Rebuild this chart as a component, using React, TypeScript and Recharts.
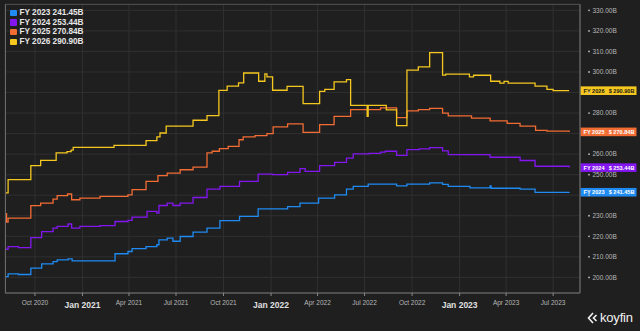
import { LineChart, Line, XAxis, YAxis, CartesianGrid, ReferenceLine } from "recharts";

type Step = [string, number];

const fy2023: Step[] = [
  ["2020-08-04", 200.4], ["2020-08-10", 201.7], ["2020-08-30", 201.4], ["2020-09-23", 204.5],
  ["2020-10-14", 206.6], ["2020-11-05", 207.7], ["2020-11-13", 208.5], ["2020-12-04", 209.0],
  ["2020-12-12", 208.0], ["2021-03-05", 211.5], ["2021-03-30", 212.6], ["2021-04-07", 214.0],
  ["2021-05-04", 215.0], ["2021-05-25", 215.9], ["2021-05-29", 218.3], ["2021-06-14", 219.1],
  ["2021-06-25", 217.6], ["2021-07-09", 219.9], ["2021-08-03", 222.0], ["2021-08-30", 224.0],
  ["2021-09-24", 227.6], ["2021-11-01", 229.7], ["2021-12-07", 233.4], ["2022-02-02", 234.5],
  ["2022-02-26", 236.2], ["2022-04-03", 238.6], ["2022-05-04", 240.2], ["2022-05-27", 243.0],
  ["2022-06-09", 244.3], ["2022-07-08", 245.4], ["2022-09-01", 244.6], ["2022-09-21", 245.4],
  ["2022-11-04", 246.0], ["2022-11-29", 245.3], ["2022-12-10", 244.3], ["2023-01-21", 243.6],
  ["2023-03-01", 244.5], ["2023-03-03", 243.4], ["2023-04-28", 243.0], ["2023-05-27", 241.4],
  ["2023-08-01", 241.45],
];

const fy2024: Step[] = [
  ["2020-08-04", 213.7], ["2020-08-10", 215.0], ["2020-08-30", 214.5], ["2020-09-23", 219.4],
  ["2020-10-14", 222.3], ["2020-11-05", 224.0], ["2020-11-13", 224.8], ["2020-12-04", 226.0],
  ["2020-12-11", 224.0], ["2020-12-27", 224.8], ["2021-02-04", 225.2], ["2021-03-05", 227.2],
  ["2021-03-30", 227.8], ["2021-04-07", 229.3], ["2021-05-06", 232.1], ["2021-05-25", 231.3],
  ["2021-05-29", 235.0], ["2021-06-14", 236.2], ["2021-06-25", 235.0], ["2021-07-09", 236.2],
  ["2021-08-03", 238.9], ["2021-08-30", 243.0], ["2021-09-24", 244.3], ["2021-11-01", 246.7],
  ["2021-12-07", 250.3], ["2022-01-04", 250.0], ["2022-02-02", 251.1], ["2022-02-26", 253.0],
  ["2022-03-08", 251.6], ["2022-04-05", 254.4], ["2022-05-04", 256.0], ["2022-05-27", 258.1],
  ["2022-06-09", 260.1], ["2022-07-10", 260.4], ["2022-08-01", 261.0], ["2022-08-10", 261.4],
  ["2022-09-01", 259.4], ["2022-09-21", 262.2], ["2022-10-15", 262.6], ["2022-11-04", 263.2],
  ["2022-11-29", 261.6], ["2022-12-10", 259.8], ["2023-03-01", 258.5], ["2023-04-28", 256.9],
  ["2023-05-27", 254.1], ["2023-08-01", 253.44],
];

const fy2025: Step[] = [
  ["2020-08-04", 231.0], ["2020-08-07", 226.9], ["2020-08-10", 228.9], ["2020-09-23", 234.9],
  ["2020-10-12", 236.2], ["2020-11-05", 238.1], ["2020-11-13", 239.8], ["2020-12-03", 240.6],
  ["2020-12-11", 237.8], ["2020-12-27", 238.6], ["2021-02-04", 239.4], ["2021-03-30", 240.2],
  ["2021-04-07", 242.7], ["2021-05-04", 246.7], ["2021-05-27", 249.5], ["2021-06-14", 250.8],
  ["2021-07-09", 252.4], ["2021-08-03", 253.7], ["2021-08-30", 260.6], ["2021-09-09", 261.4],
  ["2021-09-23", 262.7], ["2021-10-10", 263.8], ["2021-10-31", 267.0], ["2021-11-08", 268.4],
  ["2021-12-01", 269.0], ["2021-12-24", 270.0], ["2022-01-05", 273.3], ["2022-02-02", 274.7],
  ["2022-03-04", 270.6], ["2022-04-05", 274.4], ["2022-05-03", 278.4], ["2022-06-04", 281.7],
  ["2022-08-01", 282.5], ["2022-09-01", 277.8], ["2022-09-21", 281.1], ["2022-10-13", 281.7],
  ["2022-11-04", 282.3], ["2022-11-29", 280.0], ["2022-12-10", 278.6], ["2023-01-24", 277.5],
  ["2023-03-01", 276.2], ["2023-04-03", 275.0], ["2023-04-28", 273.6], ["2023-05-28", 271.6],
  ["2023-06-19", 271.2], ["2023-08-01", 270.84],
];

const fy2026: Step[] = [
  ["2020-08-04", 241.1], ["2020-08-10", 247.6], ["2020-09-23", 254.4], ["2020-10-12", 257.0],
  ["2020-11-11", 260.6], ["2020-12-02", 261.2], ["2020-12-10", 262.0], ["2020-12-14", 263.3],
  ["2021-03-03", 264.3], ["2021-05-04", 266.6], ["2021-05-25", 268.4], ["2021-05-31", 270.3],
  ["2021-06-12", 273.6], ["2021-08-03", 276.5], ["2021-08-30", 278.8], ["2021-09-22", 291.0],
  ["2021-10-08", 293.1], ["2021-10-30", 294.7], ["2021-11-09", 299.5], ["2021-12-08", 295.5],
  ["2021-12-20", 299.1], ["2021-12-24", 297.6], ["2022-01-04", 291.1], ["2022-02-01", 293.0],
  ["2022-03-04", 284.6], ["2022-04-05", 290.6], ["2022-04-15", 291.5], ["2022-05-03", 295.2],
  ["2022-05-27", 296.3], ["2022-06-04", 283.7], ["2022-07-06", 278.4], ["2022-07-08", 283.7],
  ["2022-08-12", 281.6], ["2022-09-01", 273.9], ["2022-09-21", 300.9], ["2022-10-13", 302.5],
  ["2022-11-04", 309.4], ["2022-11-29", 298.5], ["2022-12-05", 299.0], ["2023-01-20", 297.6],
  ["2023-01-28", 298.4], ["2023-03-02", 295.5], ["2023-03-20", 294.6], ["2023-03-28", 295.4],
  ["2023-04-05", 294.6], ["2023-05-27", 293.1], ["2023-06-19", 291.5], ["2023-07-01", 290.9],
  ["2023-08-01", 290.9],
];

const seriesNames = ["FY 2023", "FY 2024", "FY 2025", "FY 2026"];
const lastValues = [241.45, 253.44, 270.84, 290.9];
const seriesColors = ["#1f8bf2", "#8316f0", "#f26c34", "#f5c71f"];
const badgeText = ["#ffffff", "#ffffff", "#ffffff", "#1a1a1a"];
const allSeries = [fy2023, fy2024, fy2025, fy2026];

const xTickDates = [
  "2020-10-01", "2021-01-01", "2021-04-01", "2021-07-01", "2021-10-01", "2022-01-01",
  "2022-04-01", "2022-07-01", "2022-10-01", "2023-01-01", "2023-04-01", "2023-07-01",
];
const xTickLabels = [
  "Oct 2020", "Jan 2021", "Apr 2021", "Jul 2021", "Oct 2021", "Jan 2022",
  "Apr 2022", "Jul 2022", "Oct 2022", "Jan 2023", "Apr 2023", "Jul 2023",
];
const yTicks = [200, 210, 220, 230, 240, 250, 260, 270, 280, 290, 300, 310, 320, 330];

const ts = (d: string) => Date.parse(d + "T00:00:00Z");
const xDomain = [ts("2020-08-04"), ts("2023-08-22")];
const yDomain = [192.4, 333.1];
const font = "'Liberation Sans', Arial, sans-serif";

const XTick = ({ x, y, payload }: any) => {
  const i = xTickDates.findIndex((d) => ts(d) === payload.value);
  const label = xTickLabels[i] ?? "";
  const isJan = label.startsWith("Jan");
  return (
    <text
      x={x}
      y={isJan ? y + 10 : y + 7}
      textAnchor="middle"
      fontFamily={font}
      fontSize={isJan ? 8.5 : 6.5}
      fontWeight={isJan ? 700 : 400}
      fill={isJan ? "#e0e0e0" : "#b8b8b8"}
    >
      {label}
    </text>
  );
};

// labels sitting under a price badge are hidden, as in the original
const YTick = ({ x, y, payload }: any) => {
  const covered = lastValues.some((v) => Math.abs(v - payload.value) < 2.6);
  return (
    <g>
      <circle cx={x + 1} cy={y} r={0.9} fill="#bbbbbb" />
      {!covered && (
        <text x={x + 4.5} y={y + 2.3} fontFamily={font} fontSize={6.5} fill="#b8b8b8">
          {payload.value.toFixed(2)}B
        </text>
      )}
    </g>
  );
};

const makeBadge = (i: number) => (props: any) => {
  const vb = props.viewBox;
  const bx = vb.x + vb.width + 0.5;
  const by = vb.y;
  return (
    <g>
      <rect x={bx} y={by - 4.3} width={56} height={8.6} fill={seriesColors[i]} />
      <text x={bx + 3} y={by + 2} fontFamily={font} fontSize={5.6} fontWeight={700} fill={badgeText[i]}>
        {seriesNames[i]}
      </text>
      <text x={bx + 54} y={by + 2} textAnchor="end" fontFamily={font} fontSize={5.6} fontWeight={700} fill={badgeText[i]}>
        {"$ " + lastValues[i].toFixed(2) + "B"}
      </text>
    </g>
  );
};

export default function App() {
  return (
    <div style={{ position: "relative", width: 640, height: 331, background: "#1f1f1f", fontFamily: font }}>
      <style>{"body{margin:0;background:#1f1f1f}"}</style>
      <LineChart width={640} height={331} margin={{ top: 4, right: 0, bottom: 0, left: 5 }}>
        <CartesianGrid stroke="#303030" strokeWidth={1} />
        <XAxis
          dataKey="t"
          type="number"
          scale="time"
          domain={xDomain}
          allowDataOverflow
          ticks={xTickDates.map(ts)}
          tick={<XTick />}
          tickSize={3}
          tickLine={{ stroke: "#8a8a8a" }}
          axisLine={{ stroke: "#7a7a7a" }}
          height={38}
          interval={0}
        />
        <YAxis
          orientation="right"
          type="number"
          domain={yDomain}
          allowDataOverflow
          ticks={yTicks}
          tick={<YTick />}
          tickLine={false}
          axisLine={{ stroke: "#7a7a7a" }}
          width={60}
          interval={0}
        />
        {allSeries.map((s, i) => (
          <Line
            key={seriesNames[i]}
            data={s.map(([d, v]) => ({ t: ts(d), v }))}
            dataKey="v"
            type="stepAfter"
            stroke={seriesColors[i]}
            strokeWidth={1.3}
            dot={false}
            isAnimationActive={false}
          />
        ))}
        {lastValues.map((v, i) => (
          <ReferenceLine key={"b" + i} y={v} stroke="none" label={makeBadge(i)} />
        ))}
      </LineChart>
      <div
        style={{
          position: "absolute",
          left: 5,
          top: 4,
          width: 575,
          height: 289,
          borderLeft: "1px solid #6a6a6a",
          borderTop: "1px solid #4a4a4a",
          boxSizing: "border-box",
          pointerEvents: "none",
        }}
      />
      <div style={{ position: "absolute", left: 10, top: 8, lineHeight: "9.7px" }}>
        {seriesNames.map((n, i) => (
          <div key={n} style={{ display: "flex", alignItems: "center", height: 9.7 }}>
            <span style={{ width: 6.5, height: 6.5, background: seriesColors[i], marginRight: 3, borderRadius: 1 }} />
            <span style={{ color: "#e6e6e6", fontSize: 8.2, fontWeight: 700 }}>
              {n + " " + lastValues[i].toFixed(2) + "B"}
            </span>
          </div>
        ))}
      </div>
      <div style={{ position: "absolute", left: 587, top: 310, display: "flex", alignItems: "center", color: "#f2f2f2" }}>
        <svg width={11} height={12} viewBox="0 0 11 12">
          <path d="M6 1 L1.5 6 L6 11" fill="none" stroke="#f2f2f2" strokeWidth={1.6} />
          <path d="M9.5 3 L6.5 6 L9.5 9" fill="none" stroke="#f2f2f2" strokeWidth={1.6} />
        </svg>
        <span style={{ fontSize: 13, marginLeft: 2, letterSpacing: -0.2 }}>koyfin</span>
      </div>
    </div>
  );
}
